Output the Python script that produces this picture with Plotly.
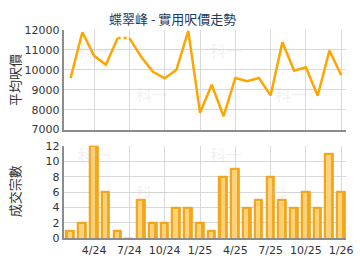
import plotly.graph_objects as go

months = ["2/24","3/24","4/24","5/24","6/24","7/24","8/24","9/24","10/24","11/24","12/24","1/25",
          "2/25","3/25","4/25","5/25","6/25","7/25","8/25","9/25","10/25","11/25","12/25","1/26"]
price = [9580, 11880, 10700, 10250, 11590, 11590, 10650, 9900, 9570, 10000, 11950, 7850,
         9250, 7670, 9590, 9430, 9590, 8715, 11380, 9950, 10130, 8700, 10970, 9730]
deals = [1, 2, 12, 6, 1, 0, 5, 2, 2, 4, 4, 2, 1, 8, 9, 4, 5, 8, 5, 4, 6, 4, 11, 6]
tick_labels = ["4/24", "7/24", "10/24", "1/25", "4/25", "7/25", "10/25", "1/26"]
tick_idx = [months.index(t) for t in tick_labels]
title = "蝶翠峰 - 實用呎價走勢"
ytitle_top = "平均呎價"
ytitle_bottom = "成交宗數"

x = list(range(len(months)))
gap = deals.index(0)  # month without deals -> dotted segment

fig = go.Figure()
line_style = dict(color="#FFA500", width=2.5)
fig.add_trace(go.Scatter(x=x[:gap], y=price[:gap], mode="lines", line=line_style,
                         xaxis="x", yaxis="y", showlegend=False))
fig.add_trace(go.Scatter(x=x[gap - 1:gap + 1], y=price[gap - 1:gap + 1], mode="lines",
                         line=dict(color="#FFA500", width=2.5, dash="dot"),
                         xaxis="x", yaxis="y", showlegend=False))
fig.add_trace(go.Scatter(x=x[gap:], y=price[gap:], mode="lines", line=line_style,
                         xaxis="x", yaxis="y", showlegend=False))

# bars with a simple two-tone look
fig.add_trace(go.Bar(x=x, y=deals, width=0.74, marker=dict(color="#F3A81C", line=dict(color="#F0A010", width=1)),
                     xaxis="x2", yaxis="y2", showlegend=False))
fig.add_trace(go.Bar(x=[v - 0.1 for v in x], y=[d - 0.12 if d > 0 else 0 for d in deals], width=0.36,
                     marker=dict(color="#FDD27A", line=dict(width=0)),
                     xaxis="x2", yaxis="y2", showlegend=False))

xr = [-0.58, 23.42]
axis_common = dict(showgrid=True, gridcolor="#D9D9D9", gridwidth=1, zeroline=False,
                   showline=True, linecolor="#8C8C8C", linewidth=2, ticks="",
                   ticklabeloverflow="allow",
                   tickfont=dict(family="DejaVu Sans, Arial", size=11, color="#333333"))

fig.update_layout(
    width=360, height=270,
    margin=dict(l=0, r=0, t=0, b=0),
    paper_bgcolor="white", plot_bgcolor="white",
    barmode="overlay", bargap=0,
    xaxis=dict(domain=[0.1806, 0.9806], range=xr, tickvals=tick_idx, showticklabels=False,
               anchor="y", **axis_common),
    yaxis=dict(domain=[0.519, 0.907], range=[7000, 12000], dtick=1000, tickformat="d", anchor="x",
               **axis_common),
    xaxis2=dict(domain=[0.1806, 0.9806], range=xr, tickvals=tick_idx, ticktext=tick_labels,
                anchor="y2", **axis_common),
    yaxis2=dict(domain=[0.096, 0.456], range=[0, 12], dtick=2, tickformat="d", anchor="x2", **axis_common),
    font=dict(family="DejaVu Sans, Arial"),
)

ann = [
    dict(text=title, x=0.49, y=1 - 13 / 270, xref="paper", yref="paper", showarrow=False,
         font=dict(size=13, color="#1F3A60", family="Noto Sans CJK TC"), xanchor="center", yanchor="middle"),
    dict(text=ytitle_top, x=15 / 360, y=1 - 78 / 270, xref="paper", yref="paper", showarrow=False,
         xanchor="center", yanchor="middle",
         textangle=-90, font=dict(size=13, color="#333333", family="Noto Sans CJK TC")),
    dict(text=ytitle_bottom, x=15 / 360, y=1 - 195 / 270, xref="paper", yref="paper", showarrow=False,
         xanchor="center", yanchor="middle",
         textangle=-90, font=dict(size=13, color="#333333", family="Noto Sans CJK TC")),
]
for (wx, wy) in [(78, 32), (230, 32), (155, 92), (315, 92), (155, 210), (310, 210), (78, 155), (230, 155)]:
    ann.append(dict(text="科一", x=wx / 360, y=1 - wy / 270, xref="paper", yref="paper", showarrow=False,
                    font=dict(size=16, color="rgba(200,200,200,0.25)", family="Noto Sans CJK TC")))
fig.update_layout(annotations=ann)

fig.write_html("out.html")
